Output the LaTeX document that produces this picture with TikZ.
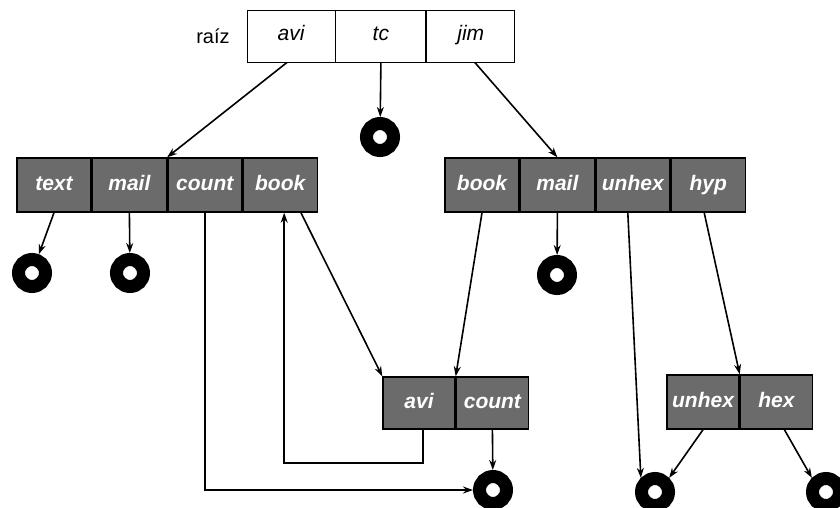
\documentclass[tikz,border=0pt]{standalone}
\usepackage{fontspec}
\setmainfont{Liberation Sans}
\usetikzlibrary{arrows.meta, positioning}

\begin{document}
\begin{tikzpicture}[x=1pt, y=-1pt, >={Stealth[length=10pt, width=7pt]},
    line width=1.6pt, font=\fontsize{20}{22}\selectfont,
    topcell/.style={draw, line width=0.9pt, fill=white, minimum height=52pt,
        inner sep=0pt, text height=14pt, text depth=5pt,
        font=\fontsize{21}{23}\selectfont\itshape},
    dircell/.style={draw, line width=1.4pt, fill=black!58, text=white,
        minimum width=74pt, minimum height=54pt, inner sep=0pt,
        text height=15pt, text depth=5pt,
        font=\fontsize{21}{23}\selectfont\bfseries\itshape},
    nil/.style={circle, draw=black, line width=13pt, fill=white,
        minimum size=27pt, inner sep=0pt}]
    % ================= Canvas =================
    \useasboundingbox (0,0) rectangle (840,508);

    % ================= Root directory =================
    \node (raiz) at (213,36) {raíz};
    \node[topcell, minimum width=88pt] (avi) at (291,36) {avi};
    \node[topcell, minimum width=90pt, right=0pt of avi] (tc) {tc};
    \node[topcell, minimum width=88pt, right=0pt of tc] (jim) {jim};

    % ================= Subdirectories =================
    % avi
    \node[dircell] (ltext) at (54,185) {text};
    \node[dircell, right=0pt of ltext] (lmail) {mail};
    \node[dircell, right=0pt of lmail] (lcount) {count};
    \node[dircell, right=0pt of lcount] (lbook) {book};
    % jim
    \node[dircell] (rbook) at (482,185) {book};
    \node[dircell, right=0pt of rbook] (rmail) {mail};
    \node[dircell, right=0pt of rmail] (runhex) {unhex};
    \node[dircell, right=0pt of runhex] (rhyp) {hyp};
    % book
    \node[dircell, minimum width=72pt, minimum height=52pt] (bavi) at (419,403) {avi};
    \node[dircell, minimum width=72pt, minimum height=52pt, right=0pt of bavi] (bcount) {count};
    % hyp
    \node[dircell, minimum width=72pt, minimum height=54pt] (bunhex) at (703,402) {unhex};
    \node[dircell, minimum width=72pt, minimum height=54pt, right=0pt of bunhex] (bhex) {hex};

    % ================= Files =================
    \node[nil] (niltc) at (380,137) {};
    \node[nil] (niltext) at (32,273) {};
    \node[nil] (nilmail) at (130,273) {};
    \node[nil] (nilrmail) at (557,275) {};
    \node[nil] (nilcount) at (493,490) {};
    \node[nil] (nilunhex) at (655,492) {};
    \node[nil] (nilhex) at (826,492) {};

    % ================= Links =================
    \draw[->] ([xshift=-4pt]avi.south) -- (lmail.north east);
    \draw[->] (tc.south) -- (niltc);
    \draw[->] ([xshift=4pt]jim.south) -- (rmail.north);

    \draw[->] (ltext.south) -- (niltext);
    \draw[->] (lmail.south) -- (nilmail);
    \draw[->] (lcount.south) |- (nilcount.west);
    \draw[->] ([xshift=-17pt]lbook.south east) -- (bavi.north west);
    \draw[->] ([xshift=4pt]bavi.south) -- ++(0,33) -| ([xshift=4pt]lbook.south);

    \draw[->] (rbook.south) -- (bavi.north east);
    \draw[->] (rmail.south) -- (nilrmail);
    \draw[->] ([xshift=-5pt]runhex.south) -- (nilunhex.north west);
    \draw[->] ([xshift=-4pt]rhyp.south) -- (bunhex.north east);

    \draw[->] (bcount.south) -- (nilcount);
    \draw[->] (bunhex.south) -- (nilunhex.north east);
    \draw[->] ([xshift=8pt]bhex.south) -- (nilhex.north west);
\end{tikzpicture}
\end{document}
